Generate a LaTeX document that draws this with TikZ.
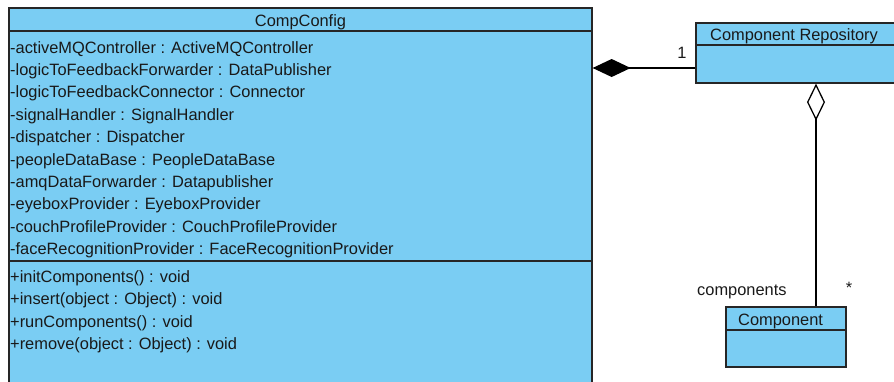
\documentclass[tikz,border=0pt]{standalone}
\usepackage{fontspec}
\setmainfont{Liberation Sans}
\usetikzlibrary{arrows.meta}
\definecolor{umlblue}{RGB}{122,205,243}
\tikzset{
	classbox/.style={draw=black!85, line width=0.45mm, fill=umlblue, inner sep=0pt},
	member/.style={anchor=base west, inner sep=0pt, text=black!90},
	title/.style={anchor=base, inner sep=0pt, text=black!90},
	compose/.style={line width=0.45mm, -{Diamond[length=38pt,width=18pt]}},
	aggregate/.style={line width=0.45mm, -{Diamond[open,length=37pt,width=18pt,fill=white]}}
}

\begin{document}
\begin{tikzpicture}[x=1pt, y=-1pt, font=\fontsize{16.4}{20}\selectfont]
			%%%%% START %%%%%
			\useasboundingbox (0, 0) rectangle (894, 381);
			\clip (0, 0) rectangle (894, 381);
			
			\node[classbox, minimum width=583, minimum height=23] (cfgHead) at (300.5, 19.5) {};
			\node[classbox, minimum width=583, minimum height=230] (cfgAttr) at (300.5, 146) {};
			\node[classbox, minimum width=583, minimum height=139] (cfgOps) at (300.5, 330.5) {};
			\node[title] (cfgName) at (300.5, 26) {CompConfig};
			
			\node[member] (a1) at (10, 53) {-activeMQController : ActiveMQController};
			\node[member] (a2) at (10, 75.4) {-logicToFeedbackForwarder : DataPublisher};
			\node[member] (a3) at (10, 97.8) {-logicToFeedbackConnector : Connector};
			\node[member] (a4) at (10, 120.2) {-signalHandler : SignalHandler};
			\node[member] (a5) at (10, 142.6) {-dispatcher : Dispatcher};
			\node[member] (a6) at (10, 165) {-peopleDataBase : PeopleDataBase};
			\node[member] (a7) at (10, 187.4) {-amqDataForwarder : Datapublisher};
			\node[member] (a8) at (10, 209.8) {-eyeboxProvider : EyeboxProvider};
			\node[member] (a9) at (10, 232.2) {-couchProfileProvider : CouchProfileProvider};
			\node[member] (a10) at (10, 254.6) {-faceRecognitionProvider : FaceRecognitionProvider};
			
			\node[member] (m1) at (10, 282.3) {+initComponents() : void};
			\node[member] (m2) at (10, 304.7) {+insert(object : Object) : void};
			\node[member] (m3) at (10, 327.1) {+runComponents() : void};
			\node[member] (m4) at (10, 349.5) {+remove(object : Object) : void};
			
			\node[classbox, minimum width=214, minimum height=22] (repoHead) at (803, 34) {};
			\node[classbox, minimum width=214, minimum height=38] (repoBody) at (803, 64) {};
			\node[member] (repoName) at (710, 40) {Component Repository};
			
			\node[classbox, minimum width=120, minimum height=23] (compHead) at (786, 318.5) {};
			\node[classbox, minimum width=120, minimum height=37] (compBody) at (786, 348.5) {};
			\node[member] (compName) at (738, 325) {Component};
			
			\coordinate (compY) at (0, 68);
			\draw[compose] (repoBody.west |- compY) -- (cfgAttr.east |- compY);
			\node[title] (one) at (682, 58) {1};
			
			\coordinate (aggX) at (816, 0);
			\draw[aggregate] (compHead.north -| aggX) -- (repoBody.south -| aggX);
			\node[member] (role) at (697, 295) {components};
			\node[title] (many) at (849, 293) {*};
			
			%%%%% END %%%%%
\end{tikzpicture}
\end{document}
